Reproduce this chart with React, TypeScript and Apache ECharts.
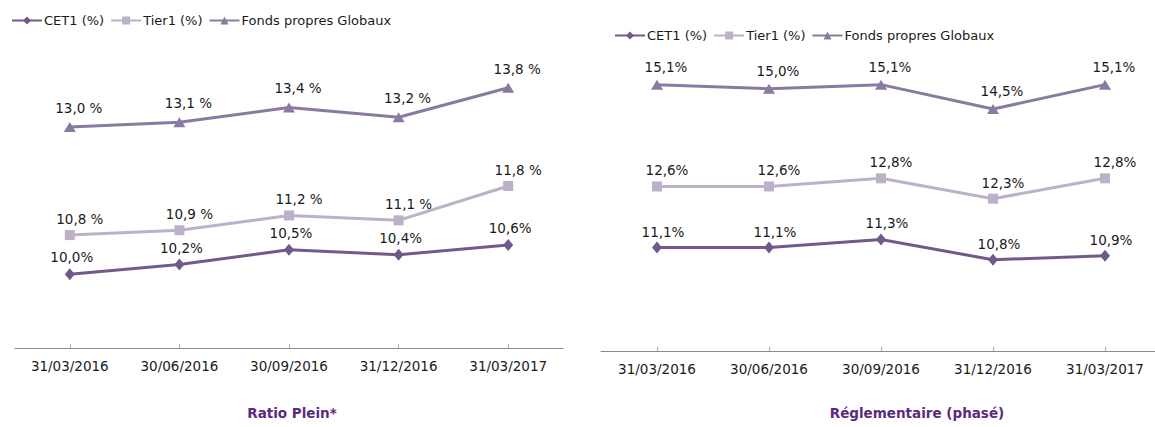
import React, { useEffect, useRef } from "react";
import * as echarts from "echarts";

const categories = ["31/03/2016", "30/06/2016", "30/09/2016", "31/12/2016", "31/03/2017"];
const seriesNames = ["CET1 (%)", "Tier1 (%)", "Fonds propres Globaux"];

const pleinCET1 = [10.0, 10.2, 10.5, 10.4, 10.6];
const pleinTier1 = [10.8, 10.9, 11.2, 11.1, 11.8];
const pleinFPG = [13.0, 13.1, 13.4, 13.2, 13.8];

const phaseCET1 = [11.1, 11.1, 11.3, 10.8, 10.9];
const phaseTier1 = [12.6, 12.6, 12.8, 12.3, 12.8];
const phaseFPG = [15.1, 15.0, 15.1, 14.5, 15.1];

const titlePlein = "Ratio Plein*";
const titlePhase = "Réglementaire (phasé)";

const COLORS = ["#715a8b", "#bcb1c8", "#8a7aa1"];
const SYMBOLS = ["diamond", "rect", "triangle"];
const SYMBOL_SIZES: any[] = [[10, 12], 10, [12, 10]];
const FONT = "DejaVu Sans, Verdana, sans-serif";
const FS = 13.5;

const fmt = (suffix: string) => (p: any) =>
  Number(p.value).toFixed(1).replace(".", ",") + suffix;

export default function App() {
  const ref = useRef<HTMLDivElement>(null);

  useEffect(() => {
    if (!ref.current) return;
    const chart = echarts.init(ref.current, undefined, { renderer: "svg" });

    const makeSeries = (
      idx: number,
      data: number[],
      gridIndex: number,
      suffix: string,
      dx: number,
      dist: number
    ) => ({
      name: seriesNames[idx],
      type: "line",
      xAxisIndex: gridIndex,
      yAxisIndex: gridIndex,
      data,
      symbol: SYMBOLS[idx],
      symbolSize: SYMBOL_SIZES[idx],
      showAllSymbol: true,
      lineStyle: { color: COLORS[idx], width: 3 },
      itemStyle: { color: COLORS[idx] },
      label: {
        show: true,
        position: "top",
        distance: dist,
        offset: [dx, 0],
        formatter: fmt(suffix),
        color: "#1a1a1a",
        fontSize: FS,
        fontFamily: FONT,
      },
      z: 3 - idx,
    });

    const xAxisBase = (gridIndex: number) => ({
      type: "category",
      gridIndex,
      data: categories,
      boundaryGap: true,
      axisLine: { show: true, lineStyle: { color: "#8f8498", width: 1 } },
      axisTick: {
        show: true,
        alignWithLabel: true,
        inside: true,
        length: 4,
        lineStyle: { color: "#b0a8b8" },
      },
      axisLabel: { color: "#1a1a1a", fontSize: FS, fontFamily: FONT, margin: 11 },
      splitLine: { show: false },
    });

    const legendBase = (left: number, top: number) => ({
      left,
      top,
      data: seriesNames,
      itemWidth: 30,
      itemHeight: 10,
      itemGap: 6,
      textStyle: { color: "#1a1a1a", fontSize: 13, fontFamily: FONT, padding: [0, 0, 0, -3] },
    });

    chart.setOption({
      animation: false,
      backgroundColor: "#ffffff",
      legend: [legendBase(6, 9), legendBase(609, 24)],
      grid: [
        { left: 15, top: 78, width: 548, height: 270 },
        { left: 601, top: 48, width: 560, height: 303 },
      ],
      xAxis: [xAxisBase(0), xAxisBase(1)],
      yAxis: [
        { type: "value", gridIndex: 0, min: 8.5, max: 14, show: false, splitLine: { show: false } },
        { type: "value", gridIndex: 1, min: 8.56, max: 16, show: false, splitLine: { show: false } },
      ],
      series: [
        makeSeries(0, pleinCET1, 0, "%", 2, 4),
        makeSeries(1, pleinTier1, 0, " %", 10, 4),
        makeSeries(2, pleinFPG, 0, " %", 9, 7),
        makeSeries(0, phaseCET1, 1, "%", 6, 3),
        makeSeries(1, phaseTier1, 1, "%", 10, 4),
        makeSeries(2, phaseFPG, 1, "%", 9, 6),
      ],
      graphic: [
        {
          type: "text",
          x: 292,
          y: 413,
          style: {
            text: titlePlein,
            align: "center",
            verticalAlign: "middle",
            fontSize: FS,
            fontWeight: "bold",
            fontFamily: FONT,
            fill: "#5b2a80",
          },
        },
        {
          type: "text",
          x: 917,
          y: 413,
          style: {
            text: titlePhase,
            align: "center",
            verticalAlign: "middle",
            fontSize: FS,
            fontWeight: "bold",
            fontFamily: FONT,
            fill: "#5b2a80",
          },
        },
      ],
    });

    return () => chart.dispose();
  }, []);

  return (
    <div
      ref={ref}
      style={{ position: "fixed", left: 0, top: 0, width: 1170, height: 427, background: "#fff" }}
    />
  );
}
